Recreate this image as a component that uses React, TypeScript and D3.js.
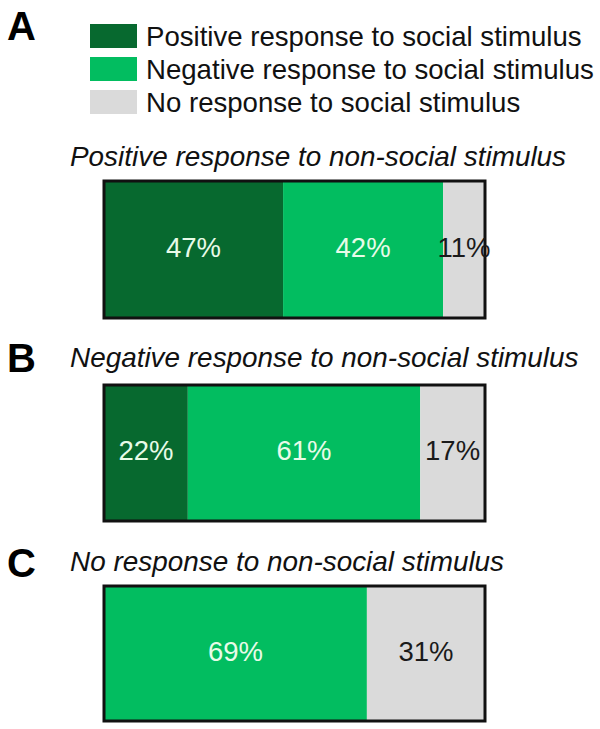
import React from "react";
import * as d3 from "d3";

const categories = ["Positive response to social stimulus", "Negative response to social stimulus", "No response to social stimulus"];
const colors = ["#07692f", "#02bd60", "#dadada"];
const labelColors = ["#e8fbe8", "#e8fbe8", "#1a1a1a"];
const panelLetters = ["A", "B", "C"];
const panelTitles = ["Positive response to non-social stimulus", "Negative response to non-social stimulus", "No response to non-social stimulus"];
const positiveValues = [47, 22, 0];
const negativeValues = [42, 61, 69];
const noneValues = [11, 17, 31];

const W = 600;
const H = 729;
const font = "'Liberation Sans', Arial, Helvetica, sans-serif";

const panelBars = [
  { top: 181, bottom: 318 },
  { top: 385, bottom: 521 },
  { top: 586, bottom: 721 },
];
const titleY = [166, 367, 571];
const letterY = [40, 372, 577];

export default function App() {
  const x = d3.scaleLinear().domain([0, 100]).range([104, 485]);
  const series = [positiveValues, negativeValues, noneValues];

  return (
    <svg width={W} height={H} style={{ position: "absolute", left: 0, top: 0, background: "#fff" }} fontFamily={font}>
      {categories.map((c, i) => (
        <g key={c}>
          <rect x={90} y={24 + i * 33} width={47} height={24} fill={colors[i]} />
          <text x={146} y={46 + i * 33} fontSize={27.6} fill="#111">{c}</text>
        </g>
      ))}
      {panelTitles.map((t, p) => {
        const { top, bottom } = panelBars[p];
        let cum = 0;
        const segs = series.map((s, k) => {
          const v = s[p];
          const seg = { k, x0: cum, x1: cum + v, v };
          cum += v;
          return seg;
        });
        return (
          <g key={t}>
            <text x={7} y={letterY[p]} fontSize={40} fontWeight="bold" fill="#000">{panelLetters[p]}</text>
            <text x={70} y={titleY[p]} fontSize={27.9} fontStyle="italic" fill="#111">{t}</text>
            {segs.filter(s => s.v > 0).map(s => (
              <rect key={s.k} x={x(s.x0)} y={top} width={x(s.x1) - x(s.x0)} height={bottom - top} fill={colors[s.k]} />
            ))}
            <rect x={x(0)} y={top} width={x(100) - x(0)} height={bottom - top} fill="none" stroke="#111" strokeWidth={3} />
            {segs.filter(s => s.v > 0).map(s => (
              <text key={"l" + s.k} x={(x(s.x0) + x(s.x1)) / 2} y={(top + bottom) / 2 + 7} fontSize={27.5} textAnchor="middle" fill={labelColors[s.k]}>{s.v}%</text>
            ))}
          </g>
        );
      })}
    </svg>
  );
}
